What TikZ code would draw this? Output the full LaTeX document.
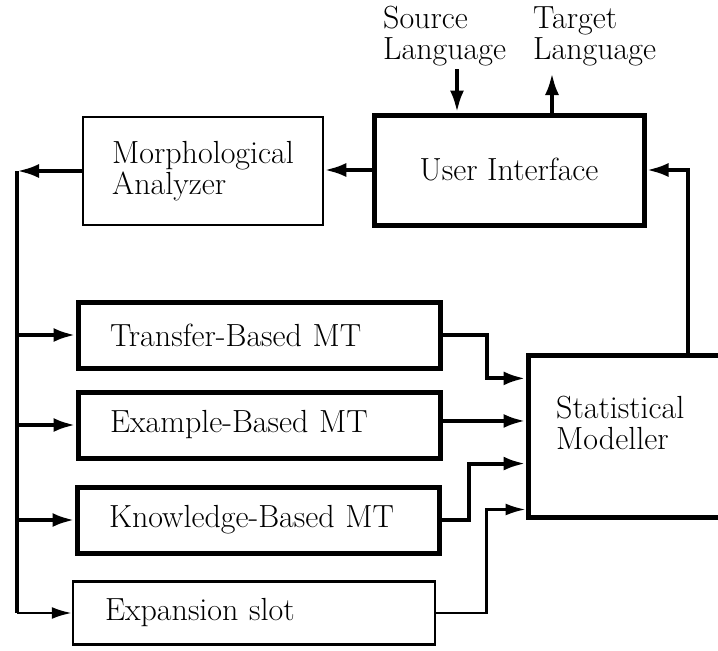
\documentclass[tikz,border=0pt]{standalone}
\usepackage{tikz}
\usetikzlibrary{arrows.meta,calc}

\begin{document}
\begin{tikzpicture}[x=1pt,y=-1pt,
    font=\fontsize{32}{31}\selectfont,
    blk/.style={draw, line width=5pt, inner sep=0pt},
    thinblk/.style={draw, line width=2.5pt, inner sep=0pt},
    mtblk/.style={blk, minimum height=66pt, text width=298pt, inner xsep=32pt, align=left},
    lbl/.style={inner sep=0pt, align=left},
    conn/.style={line width=4pt, -{Latex[length=22pt,width=14pt]}},
    thinconn/.style={line width=2.5pt, -{Latex[length=20pt,width=12pt]}}]

    \useasboundingbox (0,0) rectangle (718,651);
    \clip (0,0) rectangle (718,651);

    % boxes
    \node[thinblk, minimum width=240pt, minimum height=108pt, align=left] (morph) at (203,171) {Morphological\\Analyzer};
    \node[blk, minimum width=270pt, minimum height=110pt] (ui) at (509,170) {User Interface};
    \node[mtblk] (trans) at (259,335) {Transfer-Based MT};
    \node[mtblk] (exbased) at (259,425) {Example-Based MT};
    \node[mtblk] (know) at (258,520) {Knowledge-Based MT};
    \node[thinblk, minimum height=63pt, text width=298pt, inner xsep=32pt, align=left] (slot) at (254,613) {Expansion slot};
    \node[blk, minimum width=212pt, minimum height=162pt] (sm) at (634,436) {};
    \node[lbl, anchor=west] (smtxt) at (556,423) {Statistical\\Modeller};

    % source and target text
    \node[lbl, anchor=south west] (src) at (383,66) {Source\\Language};
    \node[lbl, anchor=south west] (tgt) at (533,66) {Target\\Language};
    \coordinate (srcin) at (457,69);
    \coordinate (tgtout) at (552,73);
    \draw[conn] (srcin) -- (srcin |- ui.north);
    \draw[conn] (tgtout |- ui.north) -- (tgtout);

    % left bus
    \coordinate (bus) at (17,171);
    \draw[conn] (ui.west) -- (ui.west -| morph.east);
    \draw[conn] (morph.west) -- (morph.west -| bus);
    \draw[line width=4pt] (bus) -- (bus |- slot.west);
    \foreach \b in {trans,exbased,know}
        \draw[conn] (\b.west -| bus) -- (\b.west);
    \draw[thinconn] (slot.west -| bus) -- (slot.west);

    % into the modeller
    \foreach \i/\f in {1/0.155,2/0.41,3/0.665,4/0.94}
        \coordinate (in\i) at ($(sm.north west)!\f!(sm.south west)$);
    \draw[conn] (trans.east) -- ++(44,0) |- (in1);
    \draw[conn] (exbased.east |- in2) -- (in2);
    \draw[conn] (know.east) -- ++(27,0) |- (in3);
    \draw[thinconn] (slot.east) -- ++(50,0) |- (in4);
    \draw[conn] ($(sm.north west)!0.75!(sm.north east)$) |- (ui.east);
\end{tikzpicture}
\end{document}
